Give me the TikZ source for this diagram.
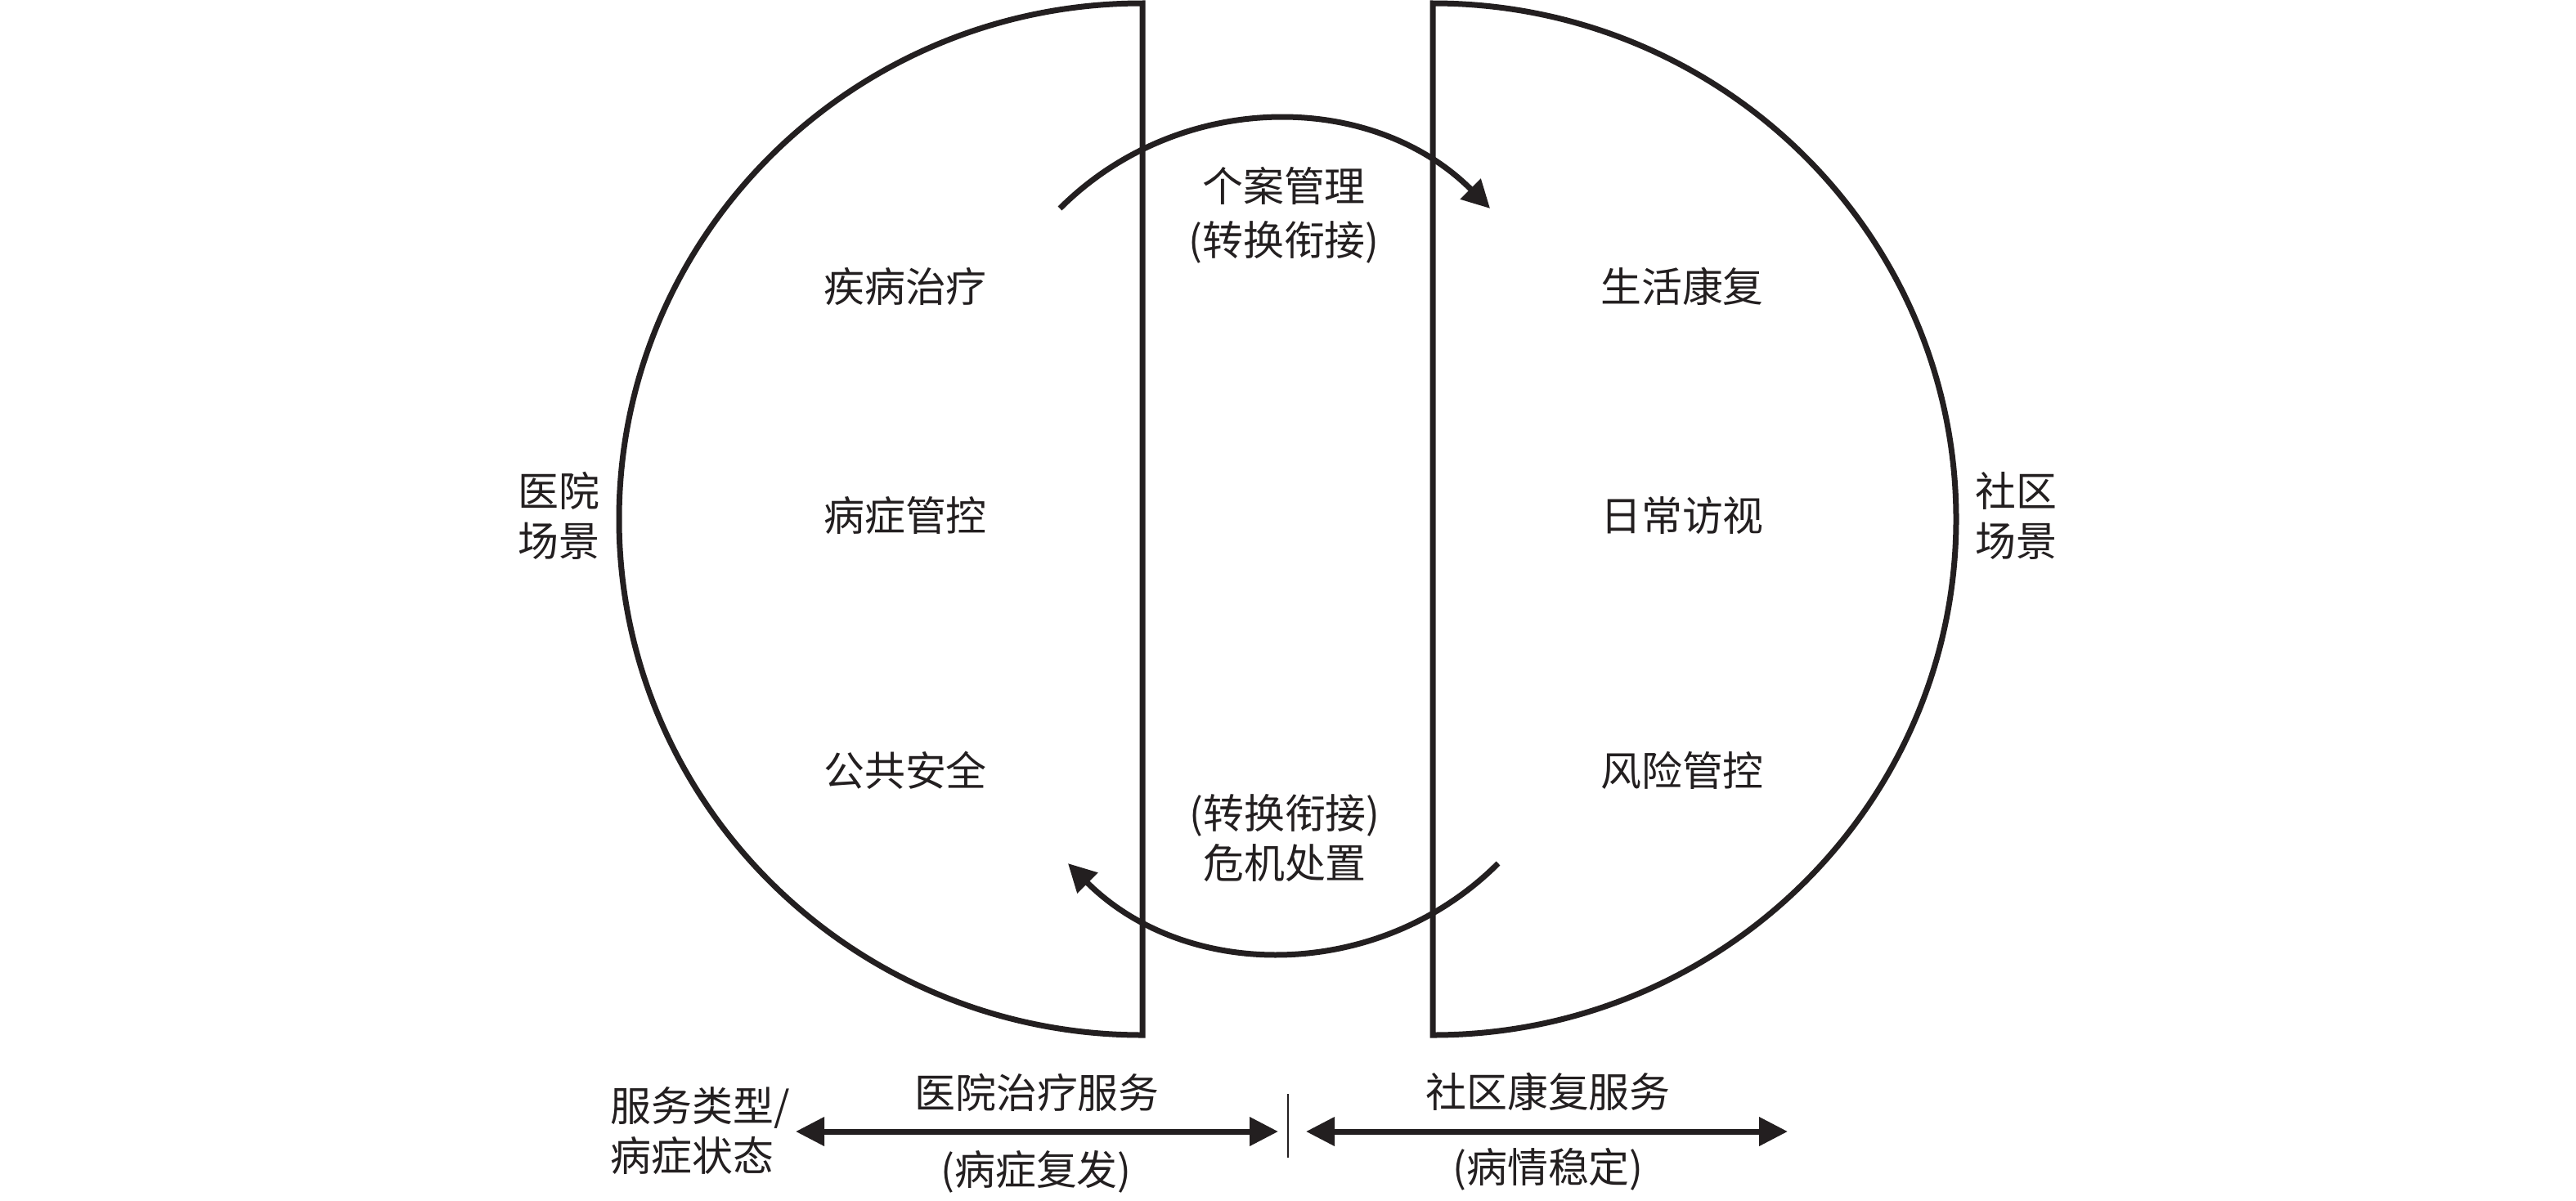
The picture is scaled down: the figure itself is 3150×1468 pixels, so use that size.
\documentclass[tikz,border=0pt]{standalone}
\usepackage{fontspec}
\setmainfont{Noto Sans CJK SC}
\usetikzlibrary{arrows.meta}
\definecolor{ink}{HTML}{231F20}
\begin{document}
\begin{tikzpicture}[x=0.1mm,y=-0.1mm,
  lbl/.style={inner sep=0pt, align=center, text=ink, font=\fontsize{14.2pt}{17.5pt}\selectfont},
  lblwide/.style={lbl, font=\fontsize{14.2pt}{18.8pt}\selectfont},
  scene/.style={draw=ink, line width=0.7mm, line join=miter},
  flow/.style={draw=ink, line width=0.7mm, -{Triangle[length=3.4mm,width=3.4mm]}},
  span/.style={draw=ink, line width=0.7mm, {Triangle[length=3.5mm,width=3.4mm]}-{Triangle[length=3.5mm,width=3.4mm]}},
  divider/.style={draw=ink, line width=0.25mm}]
\useasboundingbox (0,0) rectangle (3150,1468);

% two half-discs
\coordinate (LT) at (1397,4);
\coordinate (RT) at (1752,4);
\draw[scene] (LT) arc[start angle=270, end angle=90, x radius=640, y radius=631] -- cycle;
\draw[scene] (RT) arc[start angle=-90, end angle=90, x radius=640, y radius=631] -- cycle;

% curved transition arrows
\coordinate (ua) at (1296,255);
\draw[flow] (ua) arc[start angle=225, end angle=315, radius=372];
\coordinate (la) at (1832,1056);
\draw[flow] (la) arc[start angle=45, end angle=135, radius=372];

% texts in the half-discs
\node[lbl] (h1) at (1107,350) {疾病治疗};
\node[lbl] (h2) at (1107,631) {病症管控};
\node[lbl] (h3) at (1107,942) {公共安全};
\node[lbl] (c1) at (2057,350) {生活康复};
\node[lbl] (c2) at (2057,631) {日常访视};
\node[lbl] (c3) at (2057,942) {风险管控};

\node[lbl] (hs) at (683,631) {医院\\场景};
\node[lbl] (cs) at (2465,631) {社区\\场景};

\node[lblwide] (cm) at (1570,263) {个案管理\\(转换衔接)};
\node[lbl] (cr) at (1571,1025) {(转换衔接)\\危机处置};

% bottom axis
\node[lbl, align=left, anchor=west] (st) at (746,1383) {服务类型/\\病症状态};
\coordinate (s1a) at (973,1384);
\coordinate (s1b) at (1563,1384);
\coordinate (s2a) at (1597,1384);
\coordinate (s2b) at (2186,1384);
\draw[span] (s1a) -- (s1b);
\draw[span] (s2a) -- (s2b);
\coordinate (sepT) at (1575,1338);
\coordinate (sepB) at (1575,1416);
\draw[divider] (sepT) -- (sepB);

\node[lbl] (hsv) at (1268,1336) {医院治疗服务};
\node[lbl] (hst) at (1267,1433) {(病症复发)};
\node[lbl] (csv) at (1893,1335) {社区康复服务};
\node[lbl] (cst) at (1893,1430) {(病情稳定)};
\end{tikzpicture}
\end{document}
